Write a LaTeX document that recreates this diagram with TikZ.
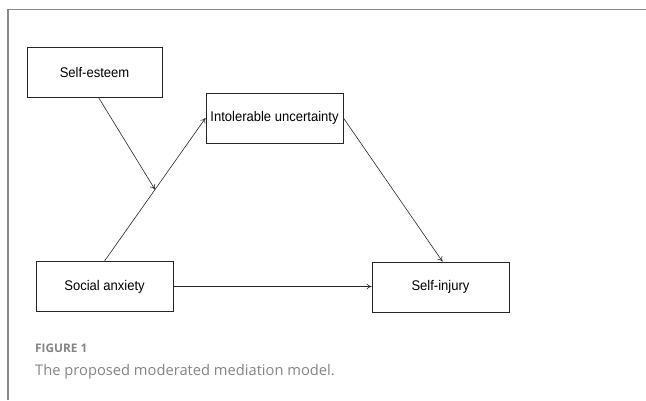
\documentclass[tikz,border=0pt]{standalone}
\usepackage{fontspec}
\setmainfont{Liberation Sans}
\newfontfamily\boxfont{Liberation Sans}[FakeStretch=0.93]
\newfontfamily\capfont{Open Sans}
\usetikzlibrary{arrows.meta,calc}
\definecolor{framegray}{HTML}{8A8A8A}
\definecolor{capgray}{HTML}{858585}
\tikzset{
   varbox/.style={draw=black!85,line width=0.9pt,minimum width=137pt,minimum height=50pt,inner sep=0pt,font=\boxfont\fontsize{14}{16}\selectfont},
   link/.style={draw=black!85,line width=0.6pt,-{To[length=5pt,width=6pt]}}
}
\begin{document}
\begin{tikzpicture}[x=1pt,y=-1pt]
   \useasboundingbox (0,0) rectangle (646,400);
   \draw[framegray,line width=1.5pt] (8,400) -- (8,9.5) -- (646,9.5);
   % variables
   \node[varbox,minimum width=135pt] (esteem) at (94.5,72) {Self-esteem};
   \node[varbox] (uncert) at (274.5,118) {Intolerable uncertainty};
   \node[varbox] (social) at (104.5,286.5) {Social anxiety};
   \node[varbox] (injury) at (440.5,287) {Self-injury};
   \coordinate (mod) at ($(social.north)!0.5!(uncert.west)$);
   % paths
   \draw[link] (social.north) -- (uncert.west);
   \draw[link] ([xshift=4pt]esteem.south) -- (mod);
   \draw[link] (uncert.east) -- ([xshift=2pt]injury.north);
   \draw[link] (social.east) -- (social.east -| injury.west);
   % caption
   \node[anchor=base west,inner sep=0pt,text=capgray,font=\capfont\fontsize{11.8}{14}\selectfont\bfseries] (fig) at (35,352) {FIGURE 1};
   \node[anchor=base west,inner sep=0pt,text=capgray,font=\capfont\fontsize{14.7}{17}\selectfont] (cap) at (35,375) {The proposed moderated mediation model.};
\end{tikzpicture}
\end{document}
